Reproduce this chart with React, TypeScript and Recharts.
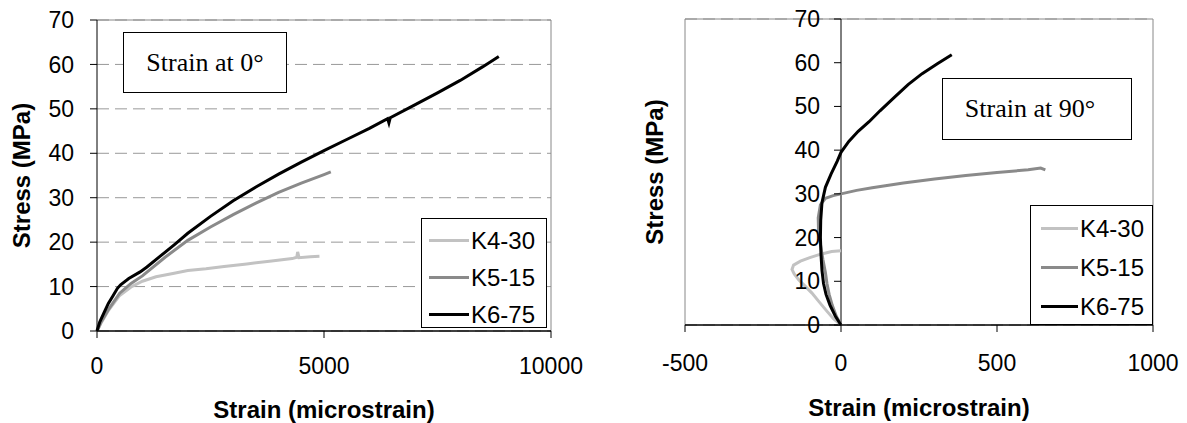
import React from 'react';
import { LineChart, Line, XAxis, YAxis, CartesianGrid, ReferenceLine, ReferenceDot, Legend, Label } from 'recharts';

const SANS = '"Liberation Sans", Arial, sans-serif';
const SERIF = '"Liberation Serif", "Times New Roman", serif';

const seriesNames = ['K4-30', 'K5-15', 'K6-75'];
const seriesColors = ['#c2c2c2', '#8a8a8a', '#000000'];

const stressTicks = [0, 10, 20, 30, 40, 50, 60, 70];
const strainTicks0 = [0, 5000, 10000];
const strainTicks90 = [-500, 0, 500, 1000];

// [strain (microstrain), stress (MPa)] - gauge at 0°
const k4At0: [number, number][] = [
  [0, 0], [100, 2], [250, 4.6], [500, 8], [750, 9.9], [1000, 11.2], [1300, 12.2], [1700, 13],
  [2000, 13.6], [2400, 14], [2800, 14.5], [3300, 15.1], [3800, 15.7], [4300, 16.3], [4400, 16.6],
  [4420, 17.8], [4450, 16.5], [4700, 16.7], [4900, 16.8],
];
const k5At0: [number, number][] = [
  [0, 0], [100, 2.2], [250, 4.8], [500, 8.5], [750, 10.7], [1000, 12.4], [1500, 16.6], [2000, 20.4],
  [2500, 23.4], [3000, 26.2], [3500, 28.8], [4000, 31.2], [4500, 33.3], [5000, 35.2], [5150, 35.8],
];
const k6At0: [number, number][] = [
  [0, 0], [60, 2], [150, 4], [250, 6.2], [350, 7.9], [450, 9.6], [520, 10.4], [700, 11.8], [950, 13.3],
  [1100, 14.4], [1400, 16.9], [1700, 19.4], [2000, 22], [2500, 25.8], [3000, 29.3], [3500, 32.4],
  [4000, 35.3], [4500, 38], [5000, 40.6], [5500, 43.1], [6000, 45.6], [6400, 47.8], [6430, 46.8],
  [6460, 48], [7000, 50.9], [7500, 53.6], [8000, 56.4], [8500, 59.5], [8850, 61.8],
];

// [strain (microstrain), stress (MPa)] - gauge at 90°
const k4At90: [number, number][] = [
  [0, 0], [-25, 1.5], [-48, 3.4], [-70, 5.3], [-93, 7.3], [-115, 8.9], [-135, 10.3], [-150, 11.7],
  [-157, 12.7], [-152, 13.7], [-130, 14.6], [-100, 15.4], [-65, 16.2], [-30, 16.8], [0, 17],
];
const k5At90: [number, number][] = [
  [0, 0], [-15, 2], [-28, 4.5], [-38, 7], [-45, 9.5], [-50, 12], [-58, 15], [-66, 18.5], [-72, 21.5],
  [-73, 24.5], [-66, 27.5], [-50, 29], [-25, 29.6], [0, 30], [50, 30.8], [100, 31.4], [200, 32.5],
  [300, 33.4], [400, 34.2], [500, 34.9], [600, 35.5], [640, 35.9], [655, 35.5],
];
const k6At90: [number, number][] = [
  [0, 0], [-18, 2], [-35, 4.5], [-48, 7], [-56, 9.5], [-61, 12.5], [-64, 16], [-66, 20], [-65, 24],
  [-61, 28], [-50, 31.5], [-32, 34.5], [-12, 37.5], [0, 39.5], [25, 42], [55, 44.3], [90, 46.5],
  [125, 49], [170, 52], [215, 55], [260, 57.5], [310, 59.8], [355, 61.8],
];

const toPoints = (rows: [number, number][]) => rows.map(([strain, stress]) => ({ strain, stress }));

const series0 = [k4At0, k5At0, k6At0].map(toPoints);
const series90 = [k4At90, k5At90, k6At90].map(toPoints);

const tickStyle = { fontSize: 23, fill: '#000', fontFamily: SANS };

const yTitle = (dx: number) => ({ viewBox }: any) => {
  const cx = viewBox.x + dx;
  const cy = viewBox.y + viewBox.height / 2;
  return (
    <text x={cx} y={cy} dy="0.35em" transform={`rotate(-90 ${cx} ${cy})`} textAnchor="middle"
      fontFamily={SANS} fontSize={24} fontWeight="bold" fill="#000">Stress (MPa)</text>
  );
};

const xTitle = (dy: number) => ({ viewBox }: any) => (
  <text x={viewBox.x + viewBox.width / 2} y={viewBox.y + dy} dy="0.35em" textAnchor="middle"
    fontFamily={SANS} fontSize={24} fontWeight="bold" fill="#000">Strain (microstrain)</text>
);

const legendBox = (w: number, h: number, row: number, padLeft: number, sample: number) => ({ payload }: any) => (
  <div style={{
    width: w, height: h, boxSizing: 'border-box', border: '1px solid #000', background: '#fff',
    paddingTop: 3, paddingLeft: padLeft,
  }}>
    {(payload || []).map((entry: any) => (
      <div key={entry.value} style={{ display: 'flex', alignItems: 'center', height: row }}>
        <span style={{ display: 'inline-block', width: sample, height: 3, background: entry.color }} />
        <span style={{ fontFamily: SANS, fontSize: 24, color: '#000', marginLeft: 2, lineHeight: 1 }}>{entry.value}</span>
      </div>
    ))}
  </div>
);

const boxStyle: React.CSSProperties = {
  position: 'absolute', boxSizing: 'border-box', border: '1.5px solid #000', background: '#fff',
  display: 'flex', alignItems: 'center', justifyContent: 'center',
  fontFamily: SERIF, fontSize: 26, color: '#000',
};

export default function App() {
  return (
    <div style={{ position: 'absolute', left: 0, top: 0, width: 1187, height: 423, background: '#fff' }}>
      <div style={{ position: 'absolute', left: 0, top: 0 }}>
        <LineChart width={593} height={423} margin={{ top: 20, right: 42, bottom: 91, left: 96 }}>
          <CartesianGrid vertical={false} stroke="#999" strokeDasharray="12 6" />
          <ReferenceLine y={70} stroke="#888" />
          <ReferenceLine x={10000} stroke="#888" />
          <ReferenceLine y={0} stroke="#000" />
          <XAxis type="number" dataKey="strain" domain={[0, 10000]} ticks={strainTicks0} height={1}
            axisLine={{ stroke: '#000' }} tickLine={{ stroke: '#000' }} tickSize={7} tickMargin={20} tick={tickStyle}>
            <Label content={xTitle(79)} />
          </XAxis>
          <YAxis type="number" dataKey="stress" domain={[0, 70]} ticks={stressTicks} width={1}
            axisLine={{ stroke: '#000' }} tickLine={{ stroke: '#000' }} tickSize={7} tickMargin={16} tick={tickStyle}>
            <Label content={yTitle(-74)} />
          </YAxis>
          {series0.map((data, i) => (
            <Line key={seriesNames[i]} data={data} dataKey="stress" name={seriesNames[i]} type="linear"
              stroke={seriesColors[i]} strokeWidth={3} dot={false} legendType="line" isAnimationActive={false} />
          ))}
          <Legend layout="vertical" align="center" verticalAlign="middle"
            wrapperStyle={{ left: 421, top: 218, width: 126, height: 110 }}
            content={legendBox(126, 110, 37, 7, 40)} />
        </LineChart>
        <div style={{ ...boxStyle, left: 123, top: 32, width: 164, height: 61 }}>Strain at 0°</div>
      </div>

      <div style={{ position: 'absolute', left: 593, top: 0 }}>
        <LineChart width={594} height={423} margin={{ top: 19, right: 34, bottom: 97, left: 91 }}>
          <CartesianGrid vertical={false} stroke="#999" strokeDasharray="12 6" />
          <ReferenceLine y={70} stroke="#888" />
          <ReferenceLine x={-500} stroke="#888" />
          <ReferenceLine x={1000} stroke="#888" />
          <ReferenceLine y={0} stroke="#000" />
          <XAxis type="number" dataKey="strain" domain={[-500, 1000]} ticks={strainTicks90} height={1}
            axisLine={{ stroke: '#000' }} tickLine={{ stroke: '#000' }} tickSize={7} tickMargin={23} tick={tickStyle}>
            <Label content={xTitle(83)} />
          </XAxis>
          <YAxis type="number" dataKey="stress" domain={[0, 70]} ticks={stressTicks} width={1}
            axisLine={false} tickLine={false} tick={false}>
            <Label content={yTitle(-29)} />
          </YAxis>
          <ReferenceLine x={0} stroke="#000" />
          {stressTicks.map((v) => (
            <ReferenceDot key={v} x={0} y={v} r={0} ifOverflow="visible"
              shape={(p: any) => (
                <g>
                  <line x1={p.cx - 7} x2={p.cx} y1={p.cy} y2={p.cy} stroke="#000" />
                  <text x={p.cx - 21} y={p.cy} dy="0.35em" textAnchor="end" fontFamily={SANS} fontSize={23} fill="#000">{v}</text>
                </g>
              )} />
          ))}
          {series90.map((data, i) => (
            <Line key={seriesNames[i]} data={data} dataKey="stress" name={seriesNames[i]} type="linear"
              stroke={seriesColors[i]} strokeWidth={3} dot={false} legendType="line" isAnimationActive={false} />
          ))}
          <Legend layout="vertical" align="center" verticalAlign="middle"
            wrapperStyle={{ left: 437, top: 205, width: 123, height: 120 }}
            content={legendBox(123, 120, 39, 10, 37)} />
        </LineChart>
        <div style={{ ...boxStyle, left: 349, top: 78, width: 190, height: 62, paddingRight: 14 }}>Strain at 90°</div>
      </div>
    </div>
  );
}
